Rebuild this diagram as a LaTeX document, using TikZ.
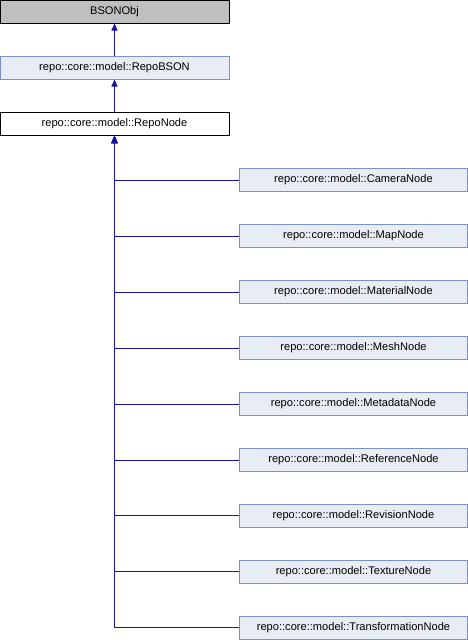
\documentclass[tikz,border=0pt]{standalone}
\usepackage{fontspec}
\setmainfont{Liberation Sans}
\usetikzlibrary{arrows.meta}
\definecolor{edgeblue}{RGB}{20,20,160}
\definecolor{boxfill}{RGB}{232,236,244}
\definecolor{boxline}{RGB}{123,145,200}
\definecolor{grayfill}{RGB}{191,191,191}
\begin{document}
\begin{tikzpicture}[x=1pt,y=-1pt,
  cls/.style={draw=boxline,fill=boxfill,line width=1pt,minimum height=23pt,inner sep=0pt,font=\fontsize{11.1}{13}\selectfont},
  topcls/.style={cls,draw=black,fill=grayfill},
  maincls/.style={cls,draw=black,fill=white},
  inh/.style={draw=edgeblue,line width=1pt,{Triangle[width=6pt,length=7pt]}-}]
\useasboundingbox (0,0) rectangle (468,640);
\node[topcls,minimum width=229pt] (bson) at (114.5,11.5) {BSONObj};
\node[cls,minimum width=229pt] (repobson) at (114.5,67.5) {repo::core::model::RepoBSON};
\node[maincls,minimum width=229pt] (reponode) at (114.5,124) {repo::core::model::RepoNode};
\foreach \name/\txt/\y in {cam/CameraNode/180, map/MapNode/236, mat/MaterialNode/292, mesh/MeshNode/348, meta/MetadataNode/404, ref/ReferenceNode/460, rev/RevisionNode/515.5, tex/TextureNode/571.5, trans/TransformationNode/627.5}{
  \node[cls,minimum width=228pt] (\name) at (353.5,\y) {repo::core::model::\txt};
  \draw[inh] (reponode.south -| 114.5,0) |- (\name.west);
}
\draw[inh] (bson.south) -- (repobson.north);
\draw[inh] (repobson.south) -- (reponode.north);
\end{tikzpicture}
\end{document}
